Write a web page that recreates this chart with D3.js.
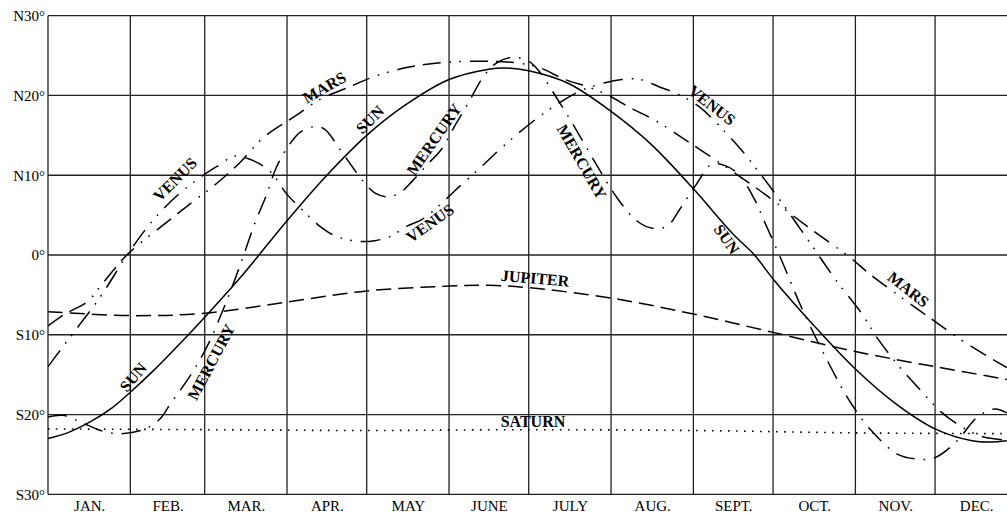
<!DOCTYPE html>
<html>
<head>
<meta charset="utf-8">
<script src="https://cdn.jsdelivr.net/npm/d3@7"></script>
<style>
  html, body { margin: 0; padding: 0; background: #fff; }
  svg { display: block; }
  text { font-family: "Liberation Serif", "Times New Roman", serif; fill: #000; }
</style>
</head>
<body>
<svg id="chart" width="1007" height="513"></svg>
<script>
// Calendar: month names and the day-of-year each month begins on
const monthLabels = ["JAN.", "FEB.", "MAR.", "APR.", "MAY", "JUNE", "JULY", "AUG.", "SEPT.", "OCT.", "NOV.", "DEC."];
const monthStarts = [0, 31, 59, 90, 120, 151, 181, 212, 243, 273, 304, 334, 365];

// Declination ticks (degrees) and their labels
const decTicks = [-30, -20, -10, 0, 10, 20, 30];
const decTickLabels = ["S30°", "S20°", "S10°", "0°", "N10°", "N20°", "N30°"];

// Declination through the year: [day of year, degrees]
const sunDec = [[0,-23.0],[8,-22.2],[16,-20.9],[24,-19.2],[31,-17.2],[40,-14.4],[50,-11.0],[59,-7.8],[73,-2.6],[90,4.3],[105,10.0],[120,15.0],[135,18.9],[151,22.0],[166,23.3],[172,23.45],[181,23.1],[196,21.5],[212,18.0],[227,13.9],[243,8.3],[258,2.6],[266,0.0],[273,-3.0],[288,-8.7],[304,-14.3],[319,-18.6],[334,-21.8],[348,-23.3],[355,-23.45],[361,-23.3]];

const mercuryDec = [[0,-20.3],[5.6,-20.1],[12,-20.9],[20.7,-22.1],[27,-22.4],[35.8,-21.9],[42,-20.6],[46,-18.7],[54,-14.9],[60,-11.4],[66,-6.8],[70,-3.4],[74,0.3],[78,4.1],[82,7.3],[86,11.0],[91,13.9],[95,15.4],[100,16.1],[104,15.8],[110,13.2],[114.5,11.1],[118,9.5],[123,7.8],[128,7.3],[132.5,7.8],[137,9.2],[143,11.4],[148,13.2],[153,16.1],[158,18.9],[164,22.4],[169,24.1],[175,24.8],[181,24.3],[185,23.0],[190,20.5],[198,16.2],[206,11.6],[214,7.3],[222,4.2],[228.5,3.3],[233.4,3.7],[238,5.8],[243.6,8.6],[250,11.4],[255,11.2],[260,10.1],[266,7.0],[270,4.0],[276,-0.5],[284,-6.8],[294,-13.6],[302,-18.4],[310,-22.0],[320,-25.0],[328,-25.6],[334,-25.4],[342,-23.4],[350,-20.3],[356.5,-19.3],[361,-19.8]];

const venusDec = [[0,-14.0],[5.6,-11.5],[12,-8.7],[19.6,-5.3],[30,0.1],[38.4,3.9],[47.8,7.2],[57.2,9.7],[63.6,11.1],[70.4,12.4],[76,12.0],[83.6,10.5],[90,7.6],[95.6,5.7],[102.4,3.6],[108.8,2.3],[117.5,1.7],[123,1.8],[128.8,2.3],[135,3.6],[141,4.5],[147.6,6.3],[153,8.0],[162,10.7],[171,13.5],[186,17.6],[200,20.5],[209.7,21.6],[216,22.0],[223,22.0],[230,21.1],[237,20.2],[245.5,18.5],[255,15.4],[261,13.2],[267,10.7],[276,6.7],[287.6,1.2],[297,-3.3],[306.5,-7.4],[312,-10.3],[320.8,-14.1],[327,-16.4],[336,-19.6],[342,-21.1],[351,-22.7],[361,-23.2]];

const marsDec = [[0,-8.9],[6.4,-7.4],[15,-5.8],[20.7,-3.5],[30,0.1],[42,3.4],[53.5,6.4],[63.6,9.0],[72.3,11.6],[81,14.7],[93,17.4],[102.4,19.5],[113.7,21.1],[123,22.4],[135,23.5],[147.6,24.1],[163.4,24.3],[176,24.1],[185,23.5],[194.6,22.0],[204,21.0],[211.6,19.9],[219,18.5],[228.5,16.9],[237,15.1],[245.5,13.2],[255,11.1],[270,7.6],[285,3.8],[302.7,-0.5],[308.7,-2.2],[320.8,-5.2],[333,-8.1],[344.5,-10.8],[357.3,-13.4],[361,-14.1]];

const jupiterDec = [[0,-7.1],[31,-7.6],[59,-7.3],[90,-5.9],[120,-4.5],[151,-3.9],[166,-3.8],[181,-4.1],[212,-5.4],[243,-7.4],[273,-9.7],[304,-12.1],[334,-14.0],[361,-15.6]];

const saturnDec = [[0,-21.8],[60,-21.9],[120,-22.0],[181,-21.9],[243,-22.0],[304,-22.3],[361,-22.4]];

// Curve names written along the paths: [text, day, declination, angle]
const curveLabels = [
  ["SUN", 32, -15.3, -50], ["SUN", 121.2, 17.0, -45], ["SUN", 255.6, 2.0, 55],
  ["MERCURY", 61.4, -13.4, -62], ["MERCURY", 145.3, 14.5, -55], ["MERCURY", 201, 11.7, 60],
  ["VENUS", 47.8, 9.5, -45], ["VENUS", 143.8, 4.0, -35], ["VENUS", 250, 18.8, 38],
  ["MARS", 104, 21.0, -30], ["MARS", 324, -4.3, 38],
  ["JUPITER", 183.4, -2.9, 5], ["SATURN", 182.6, -20.8, 0]
];

const width = 1007, height = 513;
const svg = d3.select("#chart");

const x = d3.scaleLinear().domain([0, 365]).range([48, 1017.4]);
const y = d3.scaleLinear().domain([-30, 30]).range([494.3, 15.7]);

// Grid
const grid = svg.append("g").attr("stroke", "#222").attr("stroke-width", 1.3).attr("fill", "none");
grid.selectAll("line.h").data(decTicks).join("line")
  .attr("x1", x(0)).attr("x2", x(365))
  .attr("y1", d => y(d)).attr("y2", d => y(d));
grid.selectAll("line.v").data(monthStarts).join("line")
  .attr("x1", d => x(d)).attr("x2", d => x(d))
  .attr("y1", y(30)).attr("y2", y(-30));

// Axes: degree labels on the left, month names underneath
const yAxis = d3.axisLeft(y).tickValues(decTicks).tickSize(0).tickPadding(3)
  .tickFormat((d, i) => decTickLabels[i]);
svg.append("g").attr("transform", `translate(${x(0)},0)`).call(yAxis)
  .call(g => g.select(".domain").remove())
  .call(g => g.selectAll("text").attr("font-size", 15).attr("fill", "#000"));

const monthMids = monthLabels.map((m, i) => (monthStarts[i] + monthStarts[i + 1]) / 2);
const xAxis = d3.axisBottom(x).tickValues(monthMids).tickSize(0).tickPadding(6)
  .tickFormat((d, i) => monthLabels[i]);
svg.append("g").attr("transform", `translate(0,${y(-30)})`).call(xAxis)
  .call(g => g.select(".domain").remove())
  .call(g => g.selectAll("text").attr("font-size", 15).attr("fill", "#000"));

// Curves
svg.append("clipPath").attr("id", "plot")
  .append("rect").attr("x", x(0)).attr("y", y(30)).attr("width", width - x(0)).attr("height", y(-30) - y(30));

const line = d3.line().x(d => x(d[0])).y(d => y(d[1])).curve(d3.curveCatmullRom.alpha(0.5));

const series = [
  { data: sunDec, dash: null, w: 1.5 },
  { data: jupiterDec, dash: "15,7", w: 1.5 },
  { data: saturnDec, dash: "1.6,6.4", w: 1.6 },
  { data: mercuryDec, dash: "19,9,1.6,9", w: 1.5 },
  { data: venusDec, dash: "20,9,1.6,8,1.6,9", w: 1.5 },
  { data: marsDec, dash: "18,8,18,9,1.6,8,1.6,9", w: 1.5 }
];

svg.append("g").attr("clip-path", "url(#plot)")
  .selectAll("path").data(series).join("path")
  .attr("d", s => line(s.data))
  .attr("fill", "none")
  .attr("stroke", "#000")
  .attr("stroke-width", s => s.w)
  .attr("stroke-dasharray", s => s.dash);

// Curve names
svg.append("g").selectAll("text").data(curveLabels).join("text")
  .attr("transform", d => `translate(${x(d[1])},${y(d[2])}) rotate(${d[3]})`)
  .attr("text-anchor", "middle")
  .attr("dy", "0.35em")
  .attr("font-size", 16)
  .attr("font-weight", "bold")
  .text(d => d[0]);
</script>
</body>
</html>
